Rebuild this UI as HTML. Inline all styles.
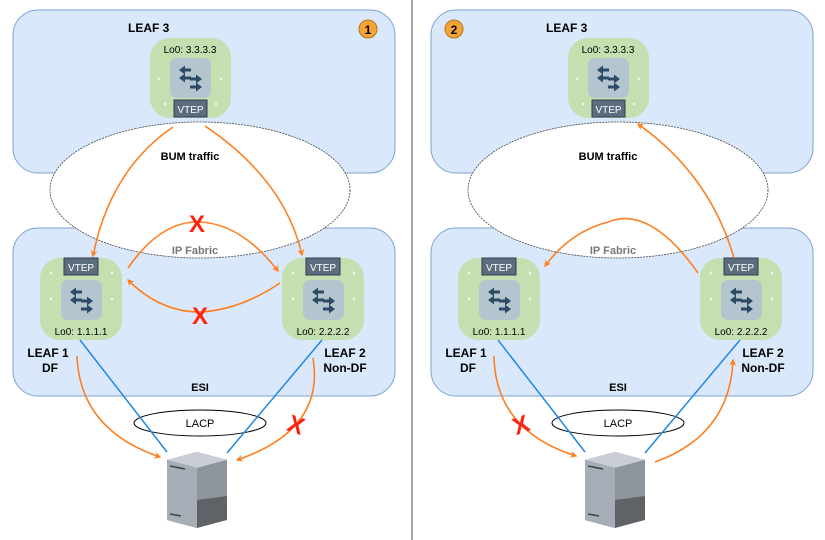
<!DOCTYPE html>
<html><head><meta charset="utf-8"><style>
body{margin:0;background:#fff}
svg{display:block;font-family:"Liberation Sans",Arial,sans-serif}
</style></head><body>
<svg width="825" height="540" viewBox="0 0 825 540" xmlns="http://www.w3.org/2000/svg">
<defs>
<marker id="ar" viewBox="0 0 10 10" refX="8" refY="5" markerWidth="7" markerHeight="7" orient="auto-start-reverse" markerUnits="userSpaceOnUse">
<path d="M0,0 L10,5 L0,10 L3,5 z" fill="#ff7f1e"/></marker>
<g id="la" fill="#2c4a63"><path d="M0,0 L6,-4.5 L6,-1.5 L12,-1.5 L12,1.5 L6,1.5 L6,4.5 Z"/></g>
<g id="ra" fill="#2c4a63"><path d="M12,0 L6,-4.5 L6,-1.5 L0,-1.5 L0,1.5 L6,1.5 L6,4.5 Z"/></g>
<g id="sw">
<rect x="0" y="0" width="41" height="40" rx="7" fill="#b4c5cf"/>
<use href="#la" x="9" y="12"/>
<use href="#la" x="9" y="20"/>
<use href="#ra" x="20" y="21"/>
<use href="#ra" x="20" y="29"/>
</g>
<g id="server">
<path d="M0,8 L30,0 L60,8 L60,68 L30,76 L0,68 Z" fill="#5f6368"/>
<path d="M0,8 L30,0 L60,8 L30,16 Z" fill="#c9ced6"/>
<path d="M0,8 L30,16 L30,76 L0,68 Z" fill="#a7adb7"/>
<path d="M30,16 L60,8 L60,44 L30,48 Z" fill="#8f959c"/>
<path d="M3,14 L18,17 M3,62 L14,64" stroke="#3e4247" stroke-width="1.5"/>
</g>
</defs>

<line x1="412" y1="0" x2="412" y2="540" stroke="#888" stroke-width="1.5"/>

<g>
<rect x="13" y="10" width="382" height="163" rx="25" fill="#dae8fc" stroke="#7fa1cf"/>
<rect x="13" y="228" width="382" height="168" rx="25" fill="#dae8fc" stroke="#7fa1cf"/>
<ellipse cx="200" cy="190" rx="150" ry="68" fill="#fff" stroke="#444" stroke-width="0.8" stroke-dasharray="2,1"/>
</g>
<g id="panelbase">
<text x="128" y="32" font-size="12" font-weight="bold">LEAF 3</text>
<rect x="150" y="38" width="81" height="80" rx="20" fill="#c4dfb0"/>
<text x="190" y="53" font-size="10" text-anchor="middle">Lo0: 3.3.3.3</text>
<use href="#sw" x="170" y="58"/>
<circle cx="159" cy="79" r="1.4" fill="#eef6ea"/><circle cx="221" cy="79" r="1.4" fill="#eef6ea"/>
<circle cx="165" cy="104" r="1.4" fill="#eef6ea"/><circle cx="216" cy="104" r="1.4" fill="#eef6ea"/>
<rect x="174" y="100" width="33" height="17" fill="#5c6d7d" stroke="#2f3f4f"/>
<text x="190.5" y="113" font-size="10" fill="#fff" text-anchor="middle">VTEP</text>

<rect x="40" y="258" width="82" height="82" rx="20" fill="#c4dfb0"/>
<use href="#sw" x="61" y="280"/>
<circle cx="51" cy="299" r="1.4" fill="#eef6ea"/><circle cx="112" cy="299" r="1.4" fill="#eef6ea"/>
<circle cx="51" cy="273" r="1.4" fill="#eef6ea"/><circle cx="112" cy="273" r="1.4" fill="#eef6ea"/>
<rect x="64" y="258" width="34" height="17" fill="#5c6d7d" stroke="#2f3f4f"/>
<text x="81" y="271" font-size="10" fill="#fff" text-anchor="middle">VTEP</text>
<text x="81" y="335" font-size="10" text-anchor="middle">Lo0: 1.1.1.1</text>

<rect x="282" y="258" width="82" height="82" rx="20" fill="#c4dfb0"/>
<use href="#sw" x="303" y="280"/>
<circle cx="293" cy="299" r="1.4" fill="#eef6ea"/><circle cx="354" cy="299" r="1.4" fill="#eef6ea"/>
<circle cx="293" cy="273" r="1.4" fill="#eef6ea"/><circle cx="354" cy="273" r="1.4" fill="#eef6ea"/>
<rect x="306" y="258" width="34" height="17" fill="#5c6d7d" stroke="#2f3f4f"/>
<text x="323" y="271" font-size="10" fill="#fff" text-anchor="middle">VTEP</text>
<text x="323" y="335" font-size="10" text-anchor="middle">Lo0: 2.2.2.2</text>

<text x="48" y="357" font-size="12" font-weight="bold" text-anchor="middle">LEAF 1</text>
<text x="50" y="372" font-size="12" font-weight="bold" text-anchor="middle">DF</text>
<text x="345" y="357" font-size="12" font-weight="bold" text-anchor="middle">LEAF 2</text>
<text x="345" y="372" font-size="12" font-weight="bold" text-anchor="middle">Non-DF</text>
<text x="200" y="391" font-size="11" font-weight="bold" text-anchor="middle">ESI</text>
<text x="190" y="160" font-size="11" font-weight="bold" text-anchor="middle">BUM traffic</text>
<text x="195" y="254" font-size="11" font-weight="bold" fill="#777" text-anchor="middle">IP Fabric</text>

<ellipse cx="200" cy="423" rx="66" ry="13" fill="#fff" stroke="#000"/>
<text x="200" y="427" font-size="11" text-anchor="middle">LACP</text>
<use href="#server" x="167" y="452"/>
<line x1="80" y1="340" x2="167" y2="452" stroke="#1e88e5" stroke-width="1.5"/>
<line x1="322" y1="340" x2="227" y2="453" stroke="#1e88e5" stroke-width="1.5"/>
</g>

<g fill="none" stroke="#ff7f1e" stroke-width="1.6" marker-end="url(#ar)">
<path d="M173,127 Q110,170 93,256"/>
<path d="M205,126 Q285,180 302,255"/>
<path d="M128,268 Q160,222 197,222 Q240,222 278,271"/>
<path d="M280,283 Q240,310 200,312 Q160,312 128,280"/>
<path d="M77,356 Q80,430 160,457"/>
<path d="M313,358 Q325,430 237,460"/>
</g>
<g font-size="24" font-weight="bold" fill="#f21" text-anchor="middle">
<text x="197" y="232">X</text>
<text x="200" y="324">X</text>
<text x="296" y="433" transform="rotate(20 296 425)">X</text>
</g>
<circle cx="368" cy="29" r="9" fill="#f5a533" stroke="#b3731f"/>
<text x="368" y="34" font-size="12" font-weight="bold" text-anchor="middle">1</text>

<g transform="translate(418,0)">
<rect x="13" y="10" width="382" height="163" rx="25" fill="#dae8fc" stroke="#7fa1cf"/>
<rect x="13" y="228" width="382" height="168" rx="25" fill="#dae8fc" stroke="#7fa1cf"/>
<ellipse cx="200" cy="190" rx="150" ry="68" fill="#fff" stroke="#444" stroke-width="0.8" stroke-dasharray="2,1"/>
<use href="#panelbase"/>
</g>
<g fill="none" stroke="#ff7f1e" stroke-width="1.6" marker-end="url(#ar)">
<path d="M734,258 Q710,175 638,124"/>
<path d="M698,273 Q650,205 608,222 Q570,232 545,266"/>
<path d="M494,356 Q495,430 576,456"/>
<path d="M655,462 Q730,435 733,360"/>
</g>
<text x="521" y="433" font-size="24" font-weight="bold" fill="#f21" text-anchor="middle" transform="rotate(-20 521 425)">X</text>
<circle cx="454" cy="29" r="9" fill="#f5a533" stroke="#b3731f"/>
<text x="454" y="34" font-size="12" font-weight="bold" text-anchor="middle">2</text>
</svg>
</body></html>
